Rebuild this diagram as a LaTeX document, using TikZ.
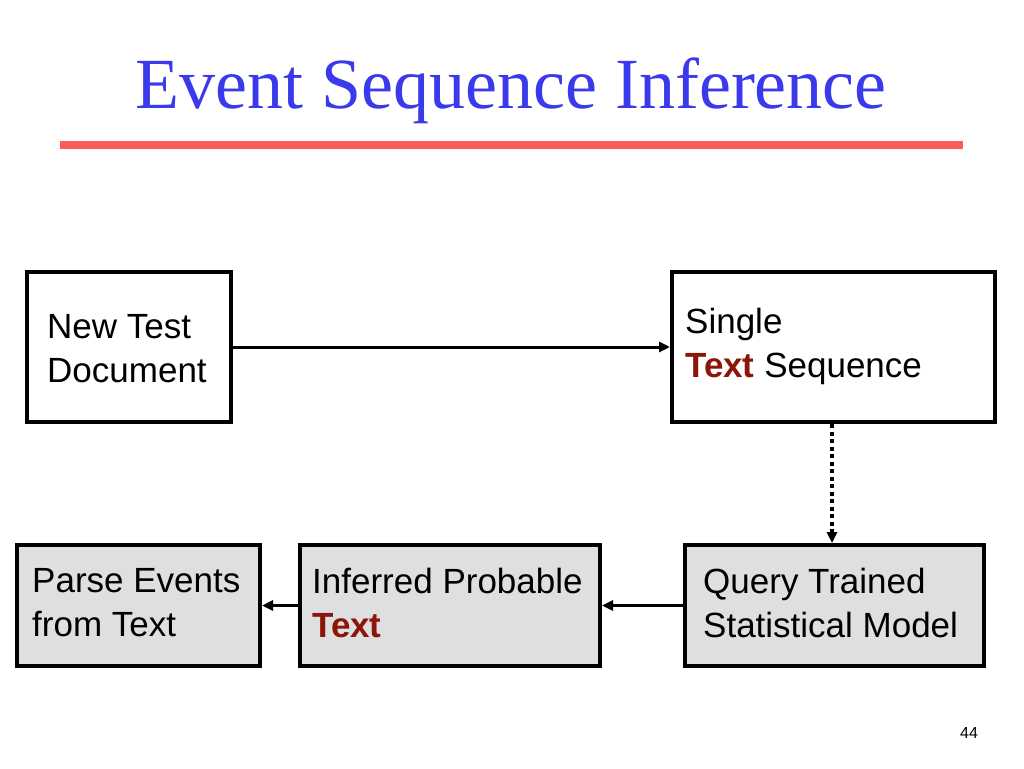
\documentclass[tikz,border=0pt]{standalone}
\usepackage{fontspec}
\setmainfont{Liberation Sans}
\newfontfamily\titlefont{Liberation Serif}
\usetikzlibrary{arrows.meta,shadows}
\definecolor{titleblue}{RGB}{58,58,236}
\definecolor{rulered}{RGB}{255,90,90}
\definecolor{boxgray}{RGB}{222,223,224}
\definecolor{darkred}{RGB}{140,20,8}
\tikzset{
  box/.style={draw=black, line width=4pt, fill=white, inner sep=0pt,
    drop shadow={shadow xshift=1.5pt, shadow yshift=-2pt, fill=black, opacity=0.25}},
  graybox/.style={box, fill=boxgray},
  btext/.style={anchor=north west, align=left, inner sep=0pt, font=\fontsize{35}{44}\selectfont},
  conn/.style={line width=3pt, -{Triangle[length=11pt,width=10pt]}},
  dotconn/.style={line width=4pt, dash pattern=on 4pt off 3.5pt, -{Triangle[length=11pt,width=10pt]}},
}
\newcommand{\hl}[1]{\textcolor{darkred}{\textbf{#1}}}
\begin{document}
\begin{tikzpicture}[x=1pt,y=-1pt]
\useasboundingbox (0,0) rectangle (1024,768);
\node[anchor=base, text=titleblue, font=\titlefont\fontsize{72}{80}\selectfont, inner sep=0pt] (title) at (511,108) {Event Sequence Inference};
\draw[rulered, line width=8pt] (60,145) -- (963,145);
% boxes
\node[box, minimum width=204pt, minimum height=150pt] (ntd) at (129,347) {};
\node[box, minimum width=323pt, minimum height=150pt] (sts) at (833.5,347) {};
\node[graybox, minimum width=243pt, minimum height=121pt] (pe) at (138.5,605.5) {};
\node[graybox, minimum width=300pt, minimum height=121pt] (ip) at (450,605.5) {};
\node[graybox, minimum width=299pt, minimum height=121pt] (qt) at (834.5,605.5) {};
% texts
\node[btext] (ntdt) at (47,314) {New Test\\Document};
\node[btext] (stst) at (685,308) {Single\\\hl{Text} Sequence};
\node[btext] (pet) at (32,568) {Parse Events\\from Text};
\node[btext] (ipt) at (312,568) {Inferred Probable\\\hl{Text}};
\node[btext] (qtt) at (703,568) {Query Trained\\Statistical Model};
% connectors
\draw[conn] (ntd.east) -- (sts.west |- ntd.east);
\draw[dotconn] (sts.south -| 832,0) -- (qt.north -| 832,0);
\draw[conn] (qt.west) -- (ip.east);
\draw[conn] (ip.west) -- (pe.east);
\node[font=\fontsize{16}{18}\selectfont, inner sep=0pt] (pg) at (969,733) {44};
\end{tikzpicture}
\end{document}
